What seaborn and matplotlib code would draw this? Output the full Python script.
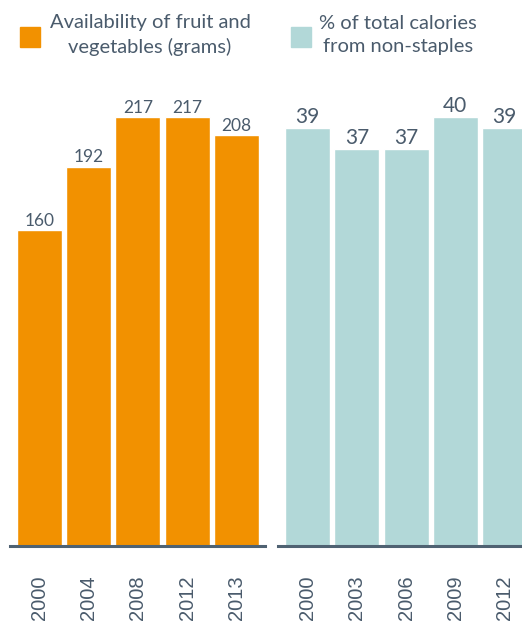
import matplotlib
matplotlib.use("Agg")
import matplotlib.pyplot as plt
import seaborn as sns
import pandas as pd
from matplotlib.patches import Rectangle

# data
fruit_years = ["2000", "2004", "2008", "2012", "2013"]
fruit_grams = [160, 192, 217, 217, 208]
cal_years = ["2000", "2003", "2006", "2009", "2012"]
cal_pct = [39, 37, 37, 40, 39]

orange = "#F29100"
teal = "#B2D8D8"
txt = "#4A5B6C"
axis_col = "#4F6272"

sns.set_style("white")
plt.rcParams["font.family"] = ["Lato", "DejaVu Sans"]

W, H = 522, 621
fig = plt.figure(figsize=(W / 100, H / 100), dpi=100)


def px_axes(x0, x1, ytop, ybot):
    return fig.add_axes([x0 / W, (H - ybot) / H, (x1 - x0) / W, (ybot - ytop) / H])


ax1 = px_axes(10, 265, 90, 546)
ax2 = px_axes(278, 522, 90, 546)

df1 = pd.DataFrame({"year": fruit_years, "val": fruit_grams})
df2 = pd.DataFrame({"year": cal_years, "val": cal_pct})

sns.barplot(data=df1, x="year", y="val", color=orange, saturation=1, width=0.914, ax=ax1)
sns.barplot(data=df2, x="year", y="val", color=teal, saturation=1, width=0.914, ax=ax2)

ax1.set_xlim(-0.6, 4.58)
ax1.set_ylim(0, (546 - 90) / 1.975)
ax2.set_xlim(-0.6, 4.355)
ax2.set_ylim(0, (546 - 90) / 10.72)

for ax, fs in [(ax1, 12.5), (ax2, 15)]:
    ax.bar_label(ax.containers[0], padding=1, color=txt, fontsize=fs)
    ax.set_xlabel("")
    ax.set_ylabel("")
    ax.set_yticks([])
    for s in ["top", "left", "right"]:
        ax.spines[s].set_visible(False)
    ax.spines["bottom"].set_color(axis_col)
    ax.spines["bottom"].set_linewidth(2.2)
    ax.tick_params(axis="x", length=0, pad=21, labelsize=14.5, labelcolor=txt, rotation=90)
    for lab in ax.get_xticklabels():
        lab.set_family(["Liberation Sans", "DejaVu Sans"])
    ax.set_facecolor("none")

# legend-style headers
fig.add_artist(Rectangle((20 / W, 1 - 47 / H), 20 / W, 20 / H, transform=fig.transFigure, color=orange))
fig.text(150 / W, 1 - 35 / H, "Availability of fruit and\nvegetables (grams)", ha="center", va="center",
         fontsize=14.5, color=txt, linespacing=1.42)
fig.add_artist(Rectangle((291 / W, 1 - 47 / H), 20 / W, 20 / H, transform=fig.transFigure, color=teal))
fig.text(398 / W, 1 - 35 / H, "% of total calories\nfrom non-staples", ha="center", va="center",
         fontsize=14.5, color=txt, linespacing=1.42)

fig.savefig("out.png", dpi=100)
